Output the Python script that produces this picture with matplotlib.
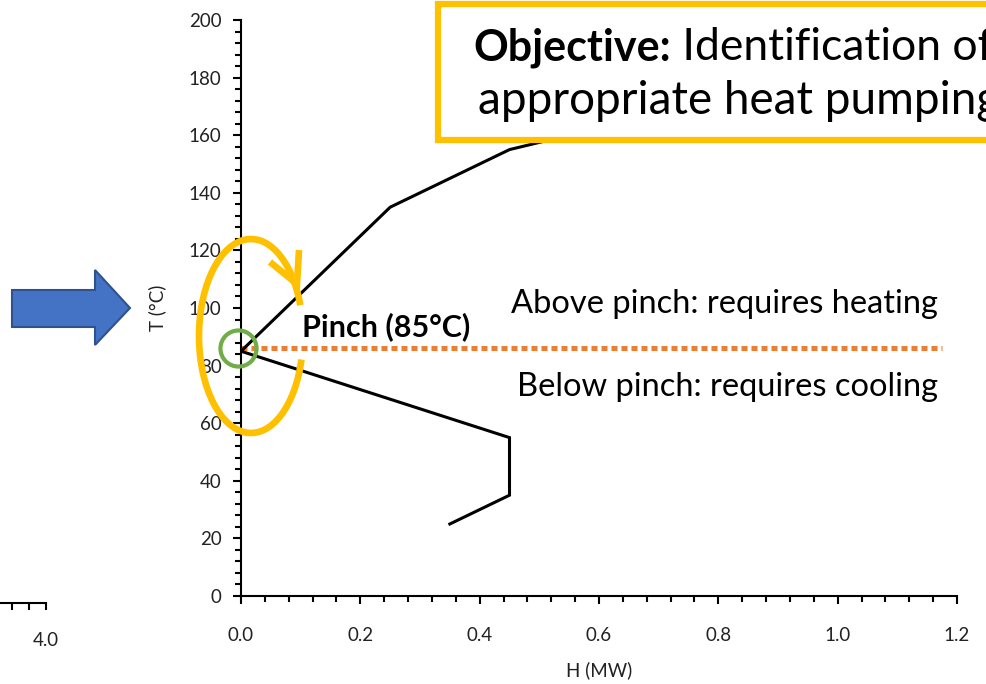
import matplotlib
matplotlib.use("Agg")
import matplotlib.pyplot as plt
from matplotlib.ticker import MultipleLocator, FixedLocator, FormatStrFormatter
from matplotlib.patches import Arc, Rectangle, Polygon

plt.rcParams['font.family'] = ['Lato', 'DejaVu Sans']

# --- data ---
H_MW = [0.35, 0.45, 0.45, 0.0, 0.25, 0.45, 0.65]
T_C = [25, 35, 55, 85, 135, 155, 165]
PINCH_T = 86
PINCH_LINE_END = 1.175

BLACK = '#000000'
ORANGE = '#ED7D31'
GREEN = '#70AD47'
GOLD = '#FFC000'
BLUE = '#4472C4'
BLUE_EDGE = '#2F528F'

W, H = 986, 684
fig = plt.figure(figsize=(W / 100, H / 100), dpi=100)

# main grand composite curve axes
ax = fig.add_axes([241 / W, 1 - 596 / H, (957 - 241) / W, (596 - 20) / H])
ax.plot(H_MW, T_C, color=BLACK, lw=2.2, solid_joinstyle='miter', zorder=3)
ax.plot([0, PINCH_LINE_END], [PINCH_T, PINCH_T], color=ORANGE, lw=3.6,
        linestyle=(0, (1.2, 0.8)), dash_capstyle='butt', zorder=2)
ax.plot([-0.005], [PINCH_T], 'o', mfc='none', mec=GREEN, ms=26, mew=3, clip_on=False, zorder=4)

ax.set_xlim(0, 1.2)
ax.set_ylim(0, 200)
ax.xaxis.set_major_locator(MultipleLocator(0.2))
ax.xaxis.set_minor_locator(MultipleLocator(0.04))
ax.yaxis.set_major_locator(MultipleLocator(20))
ax.yaxis.set_minor_locator(MultipleLocator(4))
ax.xaxis.set_major_formatter(FormatStrFormatter('%.1f'))
for s in ['top', 'right']:
    ax.spines[s].set_visible(False)
for s in ['left', 'bottom']:
    ax.spines[s].set_linewidth(1.5)
ax.tick_params(which='major', length=6, width=1.5, labelsize=13.5, color=BLACK, labelcolor='#222222')
ax.tick_params(which='minor', length=4, width=1.5, color=BLACK)
ax.tick_params(axis='x', which='major', pad=16)
ax.tick_params(axis='y', which='major', pad=8)
ax.set_xlabel('H (MW)', fontsize=13.5, labelpad=13, color='#222222')
ax.set_ylabel('T (°C)', fontsize=13.5, labelpad=16, color='#222222')

ax.text(0.102, 93.5, 'Pinch (85°C)', fontsize=22, fontweight='bold', va='center', ha='left')
ax.text(1.168, 101.5, 'Above pinch: requires heating', fontsize=23.5, va='center', ha='right')
ax.text(1.168, 72.5, 'Below pinch: requires cooling', fontsize=23.5, va='center', ha='right')

# cropped axis of the neighbouring chart on the left
ax_l = fig.add_axes([-634 / W, 1 - 603 / H, 680 / W, 0.2])
ax_l.set_xlim(0, 4.0)
ax_l.set_yticks([])
ax_l.patch.set_visible(False)
for s in ['top', 'right', 'left']:
    ax_l.spines[s].set_visible(False)
ax_l.spines['bottom'].set_linewidth(1.5)
ax_l.xaxis.set_major_locator(FixedLocator([4.0]))
ax_l.xaxis.set_minor_locator(MultipleLocator(0.1))
ax_l.xaxis.set_major_formatter(FormatStrFormatter('%.1f'))
ax_l.tick_params(which='major', length=5, width=1.5, labelsize=13.5, pad=16, labelcolor='#222222')
ax_l.tick_params(which='minor', length=5, width=1.5)

# overlay in pixel coordinates for slide shapes
ov = fig.add_axes([0, 0, 1, 1], zorder=5)
ov.set_xlim(0, W)
ov.set_ylim(H, 0)
ov.axis('off')
ov.patch.set_visible(False)

# blue block arrow
ov.add_patch(Polygon([(12, 290), (95, 290), (95, 270), (130, 308), (95, 345), (95, 327), (12, 327)],
                     closed=True, facecolor=BLUE, edgecolor=BLUE_EDGE, lw=1.5))

# gold circular arrow
cx, cy, a, b = 251, 336, 104, 194
ov.add_patch(Arc((cx, cy), a, b, theta1=25, theta2=328, color=GOLD, lw=4.8, capstyle='butt'))
tip = (297, 284)
ov.plot([299, tip[0], 270], [250, tip[1], 262], color=GOLD, lw=4.8, solid_capstyle='butt',
        solid_joinstyle='miter')

# objective box
ov.add_patch(Rectangle((438, 4), 600, 136, facecolor='white', edgecolor=GOLD, lw=4.5, clip_on=False))
t1 = ov.text(473, 61, 'Objective:', fontsize=31, fontweight='bold', va='baseline', ha='left')
ov.annotate(' Identification of', xy=(1, 0), xycoords=t1, fontsize=32, va='bottom', ha='left')
ov.text(478, 114, 'appropriate heat pumping', fontsize=33, va='baseline', ha='left')

fig.savefig('out.png', dpi=100)
